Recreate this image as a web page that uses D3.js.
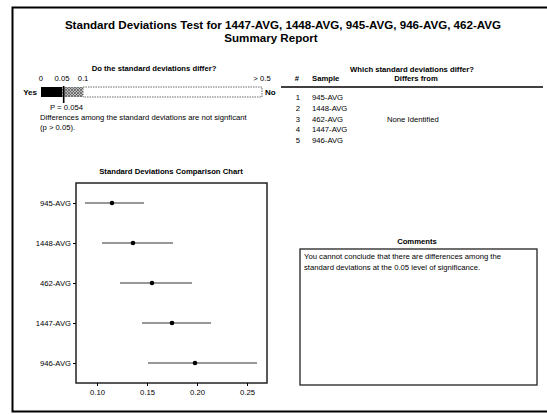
<!DOCTYPE html>
<html>
<head>
<meta charset="utf-8">
<script src="https://cdn.jsdelivr.net/npm/d3@7"></script>
<style>
  html, body { margin: 0; padding: 0; background: #fff; }
  svg { display: block; }
  text { font-family: "Liberation Sans", Arial, sans-serif; fill: #000; }
</style>
</head>
<body>
<svg id="chart" width="547" height="414"></svg>
<script>
// Samples and their standard deviations with confidence intervals
const samples = ["945-AVG", "1448-AVG", "462-AVG", "1447-AVG", "946-AVG"];
const stdevs  = [0.115, 0.136, 0.155, 0.175, 0.198];
const lowerCI = [0.088, 0.105, 0.123, 0.145, 0.151];
const upperCI = [0.147, 0.176, 0.195, 0.214, 0.260];
const xTicks  = [0.10, 0.15, 0.20, 0.25];

// p-value bar
const pValue = 0.054;
const pTicks = [0, 0.05, 0.1, 0.5];
const pTickLabels = ["0", "0.05", "0.1", "> 0.5"];

// Table of which samples differ
const tableNums = ["1", "2", "3", "4", "5"];
const tableSamples = ["945-AVG", "1448-AVG", "462-AVG", "1447-AVG", "946-AVG"];
const tableDiffers = ["", "", "None Identified", "", ""];

const FS = 7.7;   // small report text
const svg = d3.select("#chart");

// outer report frame
svg.append("path")
  .attr("d", "M548,7.5 H12.5 V411.5 H548")
  .attr("fill", "none").attr("stroke", "#000").attr("stroke-width", 2);

// titles
svg.append("text").attr("x", 283).attr("y", 29).attr("text-anchor", "middle")
  .attr("font-size", 11.6).attr("font-weight", "bold")
  .text("Standard Deviations Test for 1447-AVG, 1448-AVG, 945-AVG, 946-AVG, 462-AVG");
svg.append("text").attr("x", 271).attr("y", 41.5).attr("text-anchor", "middle")
  .attr("font-size", 11.6).attr("font-weight", "bold")
  .text("Summary Report");

// ---- p-value bar ----
const pg = svg.append("g");
pg.append("text").attr("x", 154).attr("y", 71).attr("text-anchor", "middle")
  .attr("font-size", FS).attr("font-weight", "bold").text("Do the standard deviations differ?");

const px = d3.scaleLinear().domain(pTicks).range([41, 62, 83, 262]);
const barTop = 87, barH = 10;

const defs = svg.append("defs");
const pat = defs.append("pattern").attr("id", "hatch")
  .attr("width", 3).attr("height", 3).attr("patternUnits", "userSpaceOnUse");
pat.append("rect").attr("width", 3).attr("height", 3).attr("fill", "#bbb");
pat.append("path").attr("d", "M0,3 L3,0 M0,0 L3,3").attr("stroke", "#555").attr("stroke-width", 0.7);

pg.append("rect").attr("x", px(0.1)).attr("y", barTop).attr("width", px(0.5) - px(0.1)).attr("height", barH)
  .attr("fill", "#fff").attr("stroke", "#444").attr("stroke-width", 0.8).attr("stroke-dasharray", "1.5,1");
pg.append("rect").attr("x", px(0.05)).attr("y", barTop).attr("width", px(0.1) - px(0.05)).attr("height", barH)
  .attr("fill", "url(#hatch)");
pg.append("rect").attr("x", px(0)).attr("y", barTop).attr("width", px(0.05) - px(0)).attr("height", barH)
  .attr("fill", "#000");

pg.selectAll("text.ptick").data(pTicks).join("text").attr("class", "ptick")
  .attr("x", d => px(d)).attr("y", 81).attr("text-anchor", "middle")
  .attr("font-size", FS).text((d, i) => pTickLabels[i]);

pg.append("text").attr("x", 37).attr("y", 95).attr("text-anchor", "end")
  .attr("font-size", 8).attr("font-weight", "bold").text("Yes");
pg.append("text").attr("x", 265).attr("y", 95)
  .attr("font-size", 8).attr("font-weight", "bold").text("No");

pg.append("line").attr("x1", px(pValue)).attr("x2", px(pValue)).attr("y1", barTop - 1).attr("y2", 103)
  .attr("stroke", "#000").attr("stroke-width", 1.6);
pg.append("text").attr("x", 50).attr("y", 110).attr("font-size", FS).text("P = " + pValue.toFixed(3));
pg.append("text").attr("x", 40).attr("y", 119.5).attr("font-size", FS)
  .text("Differences among the standard deviations are not signficant");
pg.append("text").attr("x", 40).attr("y", 129.5).attr("font-size", FS).text("(p > 0.05).");

// ---- which differ table ----
const tg = svg.append("g");
tg.append("text").attr("x", 412).attr("y", 72).attr("text-anchor", "middle")
  .attr("font-size", FS).attr("font-weight", "bold").text("Which standard deviations differ?");
tg.append("text").attr("x", 297).attr("y", 81).attr("text-anchor", "middle")
  .attr("font-size", FS).attr("font-weight", "bold").text("#");
tg.append("text").attr("x", 312).attr("y", 81)
  .attr("font-size", FS).attr("font-weight", "bold").text("Sample");
tg.append("text").attr("x", 416).attr("y", 81).attr("text-anchor", "middle")
  .attr("font-size", FS).attr("font-weight", "bold").text("Differs from");
tg.append("line").attr("x1", 281).attr("x2", 543).attr("y1", 87).attr("y2", 87)
  .attr("stroke", "#000").attr("stroke-width", 1.4);

const rowY = d3.scalePoint().domain(tableNums).range([100, 143]);
tg.selectAll("text.num").data(tableNums).join("text").attr("class", "num")
  .attr("x", 298).attr("y", d => rowY(d)).attr("text-anchor", "middle").attr("font-size", FS).text(d => d);
tg.selectAll("text.smp").data(tableSamples).join("text").attr("class", "smp")
  .attr("x", 312).attr("y", (d, i) => rowY(tableNums[i])).attr("font-size", FS).text(d => d);
tg.selectAll("text.dif").data(tableDiffers).join("text").attr("class", "dif")
  .attr("x", 387).attr("y", (d, i) => rowY(tableNums[i])).attr("font-size", FS).text(d => d);

// ---- comparison chart ----
const box = { left: 76, top: 183, right: 267, bottom: 383 };
svg.append("text").attr("x", 171).attr("y", 174).attr("text-anchor", "middle")
  .attr("font-size", FS).attr("font-weight", "bold").text("Standard Deviations Comparison Chart");

const x = d3.scaleLinear().domain([0.079, 0.270]).range([box.left, box.right]);
const y = d3.scalePoint().domain(samples).range([203, 363]);

svg.append("rect").attr("x", box.left).attr("y", box.top)
  .attr("width", box.right - box.left).attr("height", box.bottom - box.top)
  .attr("fill", "#fff").attr("stroke", "#222").attr("stroke-width", 1.5);

const xAxis = svg.append("g").attr("transform", `translate(0,${box.bottom})`)
  .call(d3.axisBottom(x).tickValues(xTicks).tickFormat(d3.format(".2f")).tickSize(3).tickPadding(4));
xAxis.select(".domain").remove();
xAxis.selectAll("text").attr("font-size", FS).attr("font-family", "Liberation Sans, Arial, sans-serif");

const yAxis = svg.append("g").attr("transform", `translate(${box.left},0)`)
  .call(d3.axisLeft(y).tickSize(3).tickPadding(2));
yAxis.select(".domain").remove();
yAxis.selectAll("text").attr("font-size", FS).attr("font-family", "Liberation Sans, Arial, sans-serif");

const rows = samples.map((s, i) => ({ s, sd: stdevs[i], lo: lowerCI[i], hi: upperCI[i] }));
svg.selectAll("line.ci").data(rows).join("line").attr("class", "ci")
  .attr("x1", d => x(d.lo)).attr("x2", d => x(d.hi))
  .attr("y1", d => y(d.s)).attr("y2", d => y(d.s))
  .attr("stroke", "#333").attr("stroke-width", 1.1);
svg.selectAll("circle.sd").data(rows).join("circle").attr("class", "sd")
  .attr("cx", d => x(d.sd)).attr("cy", d => y(d.s)).attr("r", 2.3).attr("fill", "#000");

// ---- comments ----
svg.append("text").attr("x", 417).attr("y", 244).attr("text-anchor", "middle")
  .attr("font-size", FS).attr("font-weight", "bold").text("Comments");
svg.append("rect").attr("x", 300).attr("y", 249).attr("width", 237).attr("height", 136)
  .attr("fill", "#fff").attr("stroke", "#222").attr("stroke-width", 1.3);
svg.append("text").attr("x", 304).attr("y", 259).attr("font-size", FS)
  .text("You cannot conclude that there are differences among the");
svg.append("text").attr("x", 304).attr("y", 270).attr("font-size", FS)
  .text("standard deviations at the 0.05 level of significance.");
</script>
</body>
</html>
